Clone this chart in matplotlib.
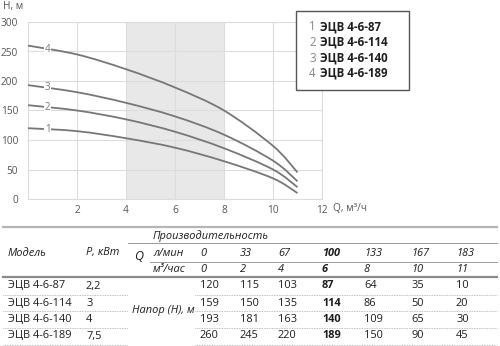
import numpy as np
import matplotlib

matplotlib.use("Agg")
import matplotlib.pyplot as plt
from matplotlib.patches import Rectangle, PathPatch
from matplotlib.lines import Line2D
from matplotlib.path import Path

# ---- data -------------------------------------------------------------------
models = ["ЭЦВ 4-6-87", "ЭЦВ 4-6-114", "ЭЦВ 4-6-140", "ЭЦВ 4-6-189"]
power = ["2,2", "3", "4", "7,5"]
flow_lmin = [0, 33, 67, 100, 133, 167, 183]
flow_m3h = [0, 2, 4, 6, 8, 10, 11]
head_87 = [120, 115, 103, 87, 64, 35, 10]
head_114 = [159, 150, 135, 114, 86, 50, 20]
head_140 = [193, 181, 163, 140, 109, 65, 30]
head_189 = [260, 245, 220, 189, 150, 90, 45]
heads = [head_87, head_114, head_140, head_189]
curve_ids = ["1", "2", "3", "4"]
work_zone = (4, 8)
x_ticks = [2, 4, 6, 8, 10, 12]
y_ticks = [0, 50, 100, 150, 200, 250, 300]

# ---- style -------------------------------------------------------------------
W, H = 500, 346
INK = "#1e1e1e"
SOFT = "#555555"
CURVE = "#777777"
GRID = "#dcdcdc"
BAND = "#e8e8e8"
FS = 7.9

plt.rcParams.update({
    "font.family": ["Open Sans", "DejaVu Sans"],
    "font.size": FS,
    "text.color": INK,
})

fig = plt.figure(figsize=(W / 100, H / 100), dpi=100)


def fx(x):
    return x / W


def fy(y):
    return 1 - y / H


def ftext(x, y, s, **kw):
    kw.setdefault("va", "center")
    fig.text(fx(x), fy(y), s, **kw)


def hline(y, x0, x1, **kw):
    fig.add_artist(Line2D([fx(x0), fx(x1)], [fy(y), fy(y)],
                          transform=fig.transFigure, **kw))


def smooth_path(xs, ys):
    """Cubic Bezier path through the given points (Catmull-Rom handles)."""
    p = np.column_stack([xs, ys]).astype(float)
    verts, codes = [p[0]], [Path.MOVETO]
    n = len(p)
    for i in range(n - 1):
        p0 = p[i - 1] if i > 0 else p[i]
        p3 = p[i + 2] if i + 2 < n else p[i + 1]
        c1 = p[i] + (p[i + 1] - p0) / 6.0
        c2 = p[i + 1] - (p3 - p[i]) / 6.0
        verts += [c1, c2, p[i + 1]]
        codes += [Path.CURVE4] * 3
    return Path(verts, codes)


# ---- chart -------------------------------------------------------------------
ax = fig.add_axes([fx(28), fy(199), fx(322) - fx(28), fy(22) - fy(199)])
ax.set_xlim(0, 12)
ax.set_ylim(0, 300)
ax.axvspan(*work_zone, color=BAND, lw=0, zorder=0)
ax.set_xticks(x_ticks)
ax.set_yticks(y_ticks)
ax.grid(True, color=GRID, lw=0.8, zorder=1)
ax.set_axisbelow(True)
for s in ax.spines.values():
    s.set_color(GRID)
    s.set_linewidth(0.8)
ax.tick_params(length=0, labelsize=7.3, colors=SOFT)
ax.tick_params(axis="y", pad=7)
ax.tick_params(axis="x", pad=4)

for cid, h in zip(curve_ids, heads):
    ax.add_patch(PathPatch(smooth_path(flow_m3h, h), facecolor="none",
                           edgecolor=CURVE, lw=1.3, zorder=3, capstyle="butt"))
    ax.text(0.8, np.interp(0.8, flow_m3h, h), cid, color=CURVE, fontsize=7,
            ha="center", va="center", zorder=4,
            bbox=dict(facecolor="white", edgecolor="none", pad=0.6))

ftext(3, 7, "H, м", fontsize=7.3, color=SOFT)
ftext(333, 209, "Q, м³/ч", fontsize=7.3, color=SOFT)

# legend box
fig.add_artist(Rectangle((fx(296), fy(90)), fx(113), 79 / H,
                         transform=fig.transFigure, facecolor="white",
                         edgecolor=SOFT, lw=1.0, zorder=5))
for i, (cid, name) in enumerate(zip(curve_ids, models)):
    y = 27 + i * 15.5
    fig.text(fx(309), fy(y), cid, color="#888888", fontsize=8.3, va="center",
             zorder=6)
    fig.text(fx(320), fy(y), name, color=INK, fontsize=8.3, weight="bold",
             va="center", zorder=6)

# ---- table -------------------------------------------------------------------
col_x = [200, 240, 278, 322, 364, 411, 456]
row_y = [286, 303, 319, 336]
BOLD_COL = flow_m3h.index(6)

hline(227, 3, 497, color="#b5b5b5", lw=1.6)
hline(243, 128, 497, color="#999999", lw=0.7)
hline(262, 150, 497, color="#999999", lw=0.7)
hline(277, 3, 497, color="#8a8a8a", lw=1.6)
for y in [295, 311, 328, 345]:
    hline(y, 3, 128, color="#aaaaaa", lw=0.6, ls=(0, (1, 1)))
    hline(y, 195, 497, color="#aaaaaa", lw=0.6, ls=(0, (1, 1)))

ftext(8, 253, "Модель", style="italic")
ftext(86, 253, "P, кВт", style="italic")
ftext(134, 257, "Q", style="italic", fontsize=9)
ftext(153, 236, "Производительность", style="italic")
ftext(153, 253, "л/мин", style="italic")
ftext(153, 270, "м³/час", style="italic")
for j, x in enumerate(col_x):
    w = "bold" if j == BOLD_COL else "normal"
    ftext(x, 253, str(flow_lmin[j]), style="italic", weight=w)
    ftext(x, 270, str(flow_m3h[j]), style="italic", weight=w)

ftext(132, 311, "Напор (H), м", style="italic")
for i, y in enumerate(row_y):
    ftext(8, y, models[i])
    ftext(86, y, power[i])
    for j, x in enumerate(col_x):
        w = "bold" if j == BOLD_COL else "normal"
        ftext(x, y, str(heads[i][j]), weight=w)

fig.savefig("out.png", dpi=100)
